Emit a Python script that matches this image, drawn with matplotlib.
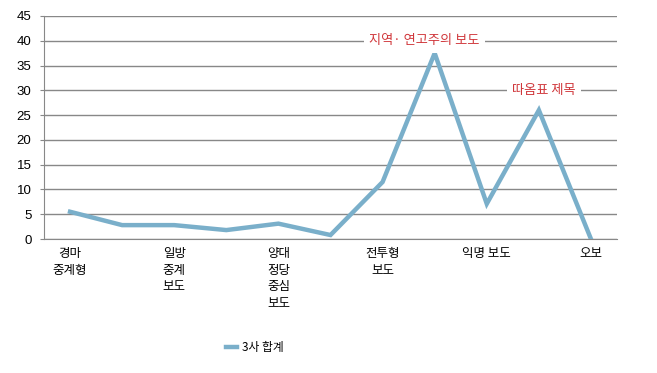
import matplotlib
matplotlib.use("Agg")
import matplotlib.pyplot as plt
import numpy as np

plt.rcParams['font.family'] = ['Noto Sans CJK KR', 'DejaVu Sans']

# 11 categories, Excel only shows every other label
categories = ['경마\n중계형', '', '일방\n중계\n보도', '', '양대\n정당\n중심\n보도', '',
              '전투형\n보도', '', '익명 보도', '', '오보']
values = [5.5, 2.8, 2.8, 1.8, 3.1, 0.8, 11.5, 37.5, 7.1, 26.0, 0.0]
series_name = '3사 합계'

annotations = [('지역· 연고주의 보도', 6.8, 40), ('따옴표 제목', 9.1, 30)]

fig = plt.figure(figsize=(6.57, 3.73), dpi=100)
ax = fig.add_axes([44/657, 1 - 239/373, (617 - 44)/657, (239 - 16)/373])

x = np.arange(len(values))
line, = ax.plot(x, values, color='#7aafca', linewidth=3.2, solid_joinstyle='miter',
                label=series_name, zorder=3)

ax.set_xlim(-0.5, len(values) - 0.5)
ax.set_ylim(0, 45)
ax.set_yticks(np.arange(0, 46, 5))
ax.set_xticks(x)
ax.set_xticklabels(categories, fontsize=9, linespacing=1.35, va='top')
ax.tick_params(axis='x', length=0, pad=6)
ax.tick_params(axis='y', length=3, color='#888888', labelsize=9.5, pad=6)
for lab in ax.get_yticklabels():
    lab.set_fontfamily(['Liberation Sans', 'DejaVu Sans'])

ax.grid(axis='y', color='#888888', linewidth=1)
ax.set_axisbelow(True)
for side in ['top', 'right']:
    ax.spines[side].set_visible(False)
ax.spines['left'].set_color('#888888')
ax.spines['bottom'].set_color('#888888')

for txt, xi, yi in annotations:
    ax.text(xi, yi, txt, color='#d0373b', fontsize=9.5, ha='center', va='center',
            bbox=dict(facecolor='white', edgecolor='none', pad=4), zorder=4)

fig.legend(handles=[line], loc='center', bbox_to_anchor=(0.388, 0.068), frameon=False,
           fontsize=8.5, handlelength=0.9, handletextpad=0.4)

fig.savefig('out.png', dpi=100)
